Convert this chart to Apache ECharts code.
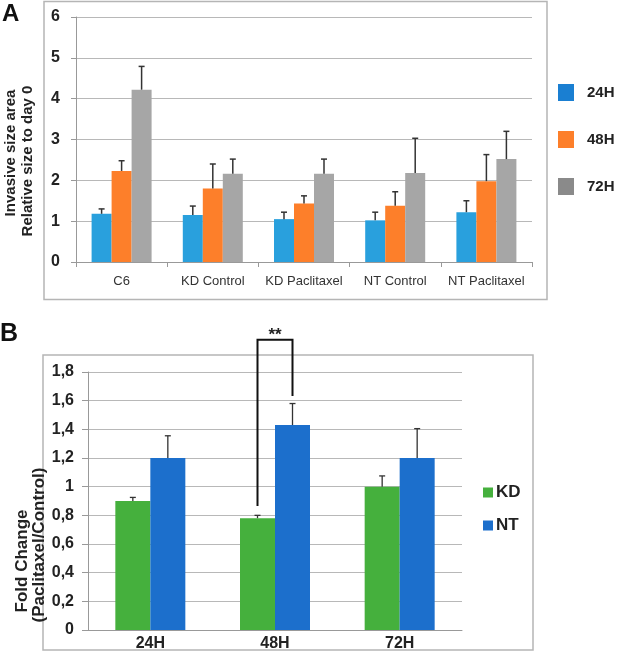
<!DOCTYPE html>
<html><head><meta charset="utf-8">
<script src="https://cdn.jsdelivr.net/npm/echarts@6/dist/echarts.min.js"></script>
<style>html,body{margin:0;padding:0;background:#fff}#c{width:625px;height:652px}</style>
</head><body><div id="c"></div>
<script>
// Panel A data
const catsA = ['C6', 'KD Control', 'KD Paclitaxel', 'NT Control', 'NT Paclitaxel'];
const seriesNamesA = ['24H', '48H', '72H'];
const valsA24 = [1.18, 1.15, 1.05, 1.02, 1.22];
const errA24 = [1.30, 1.37, 1.22, 1.22, 1.50];
const valsA48 = [2.23, 1.80, 1.43, 1.38, 1.98];
const errA48 = [2.48, 2.40, 1.62, 1.72, 2.63];
const valsA72 = [4.22, 2.16, 2.16, 2.18, 2.52];
const errA72 = [4.79, 2.52, 2.52, 3.03, 3.20];
const ticksA = [0, 1, 2, 3, 4, 5, 6];

// Panel B data
const catsB = ['24H', '48H', '72H'];
const seriesNamesB = ['KD', 'NT'];
const valsKD = [0.90, 0.78, 1.00];
const errKD = [0.925, 0.80, 1.075];
const valsNT = [1.20, 1.43, 1.20];
const errNT = [1.355, 1.58, 1.405];
const ticksB = [0, 0.2, 0.4, 0.6, 0.8, 1, 1.2, 1.4, 1.6, 1.8];
// significance bracket (48H): [category, left bottom, top, right bottom]
const bracket = [1, 0.865, 2.025, 1.633];
const bracketLabel = '**';

const colorsA = ['#29a0dd', '#fd7f2a', '#a6a6a6'];
const legendColorsA = ['#1a7fd2', '#fd7f2a', '#8a8a8a'];
const colorsB = ['#45b03d', '#1c6fcc'];

const chart = echarts.init(document.getElementById('c'), null, {renderer: 'canvas'});
const FONT = 'Liberation Sans, Arial, Helvetica, sans-serif';

function errSeries(name, xi, yi, vals, errs, idx, n, bw, capW, lw) {
  return {
    type: 'custom', name: name + '_err', xAxisIndex: xi, yAxisIndex: yi, clip: false, z: 5,
    silent: true,
    data: vals.map((v, i) => [i, v, errs[i]]),
    encode: {x: 0, y: [1, 2]},
    renderItem: function (params, api) {
      const c = api.value(0);
      const p0 = api.coord([c, api.value(1)]);
      const p1 = api.coord([c, api.value(2)]);
      const x = p0[0] + (idx - (n - 1) / 2) * bw;
      return {
        type: 'group',
        children: [
          {type: 'line', shape: {x1: x, y1: p0[1], x2: x, y2: p1[1]}, style: {stroke: '#333', lineWidth: lw}},
          {type: 'line', shape: {x1: x - capW / 2, y1: p1[1], x2: x + capW / 2, y2: p1[1]}, style: {stroke: '#333', lineWidth: lw}}
        ]
      };
    }
  };
}

const bwA = 20, bwB = 35;
const valsAAll = [valsA24, valsA48, valsA72];
const errAAll = [errA24, errA48, errA72];
const valsBAll = [valsKD, valsNT];
const errBAll = [errKD, errNT];

const series = [];
seriesNamesA.forEach((nm, i) => {
  series.push({type: 'bar', name: nm, xAxisIndex: 0, yAxisIndex: 0, data: valsAAll[i],
    barWidth: bwA, barGap: '0%', itemStyle: {color: colorsA[i]}, z: 3});
});
seriesNamesA.forEach((nm, i) => series.push(errSeries(nm, 0, 0, valsAAll[i], errAAll[i], i, 3, bwA, 6, 1.5)));
seriesNamesB.forEach((nm, i) => {
  series.push({type: 'bar', name: nm, xAxisIndex: 1, yAxisIndex: 1, data: valsBAll[i],
    barWidth: bwB, barGap: '0%', itemStyle: {color: colorsB[i]}, z: 3});
});
seriesNamesB.forEach((nm, i) => series.push(errSeries(nm, 1, 1, valsBAll[i], errBAll[i], i, 2, bwB, 6, 1.3)));

series.push({
  type: 'custom', name: 'bracket', xAxisIndex: 1, yAxisIndex: 1, clip: false, z: 6, silent: true,
  data: [bracket],
  encode: {x: 0, y: [1, 2, 3]},
  renderItem: function (params, api) {
    const c = api.value(0);
    const pl = api.coord([c, api.value(1)]);
    const pt = api.coord([c, api.value(2)]);
    const pr = api.coord([c, api.value(3)]);
    const xl = pl[0] - bwB / 2, xr = pl[0] + bwB / 2;
    return {
      type: 'group',
      children: [
        {type: 'polyline', shape: {points: [[xl, pl[1]], [xl, pt[1]], [xr, pt[1]], [xr, pr[1]]]},
          style: {stroke: '#111', lineWidth: 2, fill: null}},
        {type: 'text', x: pl[0], y: pt[1] + 4, style: {text: bracketLabel, textAlign: 'center', textVerticalAlign: 'bottom',
          font: 'bold 17px ' + FONT, fill: '#222'}}
      ]
    };
  }
});

const option = {
  animation: false,
  backgroundColor: '#fff',
  grid: [
    {left: 76, top: 17, width: 456, height: 245},
    {left: 88, top: 372, width: 374, height: 262}
  ],
  xAxis: [
    {type: 'category', gridIndex: 0, data: catsA,
      axisLine: {lineStyle: {color: '#999', width: 1}},
      axisTick: {show: true, length: 5, lineStyle: {color: '#999'}},
      axisLabel: {interval: 0, color: '#333', fontFamily: FONT, fontSize: 13, margin: 13}},
    {type: 'category', gridIndex: 1, data: catsB,
      axisLine: {lineStyle: {color: '#999', width: 1}},
      axisTick: {show: false},
      axisLabel: {interval: 0, color: '#222', fontFamily: FONT, fontSize: 16, fontWeight: 'bold', margin: 6}}
  ],
  yAxis: [
    {type: 'value', gridIndex: 0, min: ticksA[0], max: ticksA[ticksA.length - 1], interval: 1,
      axisLine: {show: true, lineStyle: {color: '#999'}},
      axisTick: {show: true, length: 5, lineStyle: {color: '#999'}},
      splitLine: {lineStyle: {color: '#b8b8b8', width: 1.2}},
      axisLabel: {color: '#222', fontFamily: FONT, fontSize: 16, fontWeight: 'bold', margin: 16}},
    {type: 'value', gridIndex: 1, min: ticksB[0], max: ticksB[ticksB.length - 1], interval: 0.2,
      axisLine: {show: true, lineStyle: {color: '#999'}},
      axisTick: {show: true, length: 6, lineStyle: {color: '#999'}},
      splitLine: {lineStyle: {color: '#b8b8b8', width: 1.2}},
      axisLabel: {color: '#222', fontFamily: FONT, fontSize: 16, fontWeight: 'bold', margin: 14,
        formatter: v => (Math.round(v * 10) / 10).toString().replace('.', ',')}}
  ],
  legend: [
    {orient: 'vertical', left: 558, top: 84, itemWidth: 16, itemHeight: 17, itemGap: 30, padding: 0,
      icon: 'rect', selectedMode: false,
      data: seriesNamesA.map((n, i) => ({name: n, itemStyle: {color: legendColorsA[i]}})),
      textStyle: {color: '#222', fontFamily: FONT, fontSize: 15, fontWeight: 'bold', padding: [0, 0, 0, 8]}},
    {orient: 'vertical', left: 483, top: 484, itemWidth: 10, itemHeight: 10, itemGap: 16, padding: 0,
      icon: 'rect', selectedMode: false,
      data: seriesNamesB.map((n, i) => ({name: n, itemStyle: {color: colorsB[i]}})),
      textStyle: {color: '#222', fontFamily: FONT, fontSize: 17, fontWeight: 'bold', padding: [0, 0, 0, -2]}}
  ],
  graphic: [
    {type: 'rect', shape: {x: 44, y: 1.5, width: 503, height: 298}, style: {fill: null, stroke: '#b5b5b5', lineWidth: 1.5}, z: 0},
    {type: 'rect', shape: {x: 43, y: 355, width: 490, height: 295}, style: {fill: null, stroke: '#b5b5b5', lineWidth: 1.5}, z: 0},
    {type: 'text', x: 2, y: 2, style: {text: 'A', font: 'bold 24px ' + FONT, fill: '#111'}},
    {type: 'text', x: 0, y: 322, style: {text: 'B', font: 'bold 25px ' + FONT, fill: '#111'}},
    {type: 'text', x: 11, y: 153, rotation: Math.PI / 2,
      style: {text: 'Invasive size area', textAlign: 'center', textVerticalAlign: 'middle', font: 'bold 15px ' + FONT, fill: '#222'}},
    {type: 'text', x: 28, y: 161, rotation: Math.PI / 2,
      style: {text: 'Relative size to day 0', textAlign: 'center', textVerticalAlign: 'middle', font: 'bold 15px ' + FONT, fill: '#222'}},
    {type: 'text', x: 22, y: 561, rotation: Math.PI / 2,
      style: {text: 'Fold Change', textAlign: 'center', textVerticalAlign: 'middle', font: 'bold 17px ' + FONT, fill: '#222'}},
    {type: 'text', x: 39, y: 545, rotation: Math.PI / 2,
      style: {text: '(Paclitaxel/Control)', textAlign: 'center', textVerticalAlign: 'middle', font: 'bold 17px ' + FONT, fill: '#222'}}
  ],
  series: series
};
chart.setOption(option);
</script></body></html>
